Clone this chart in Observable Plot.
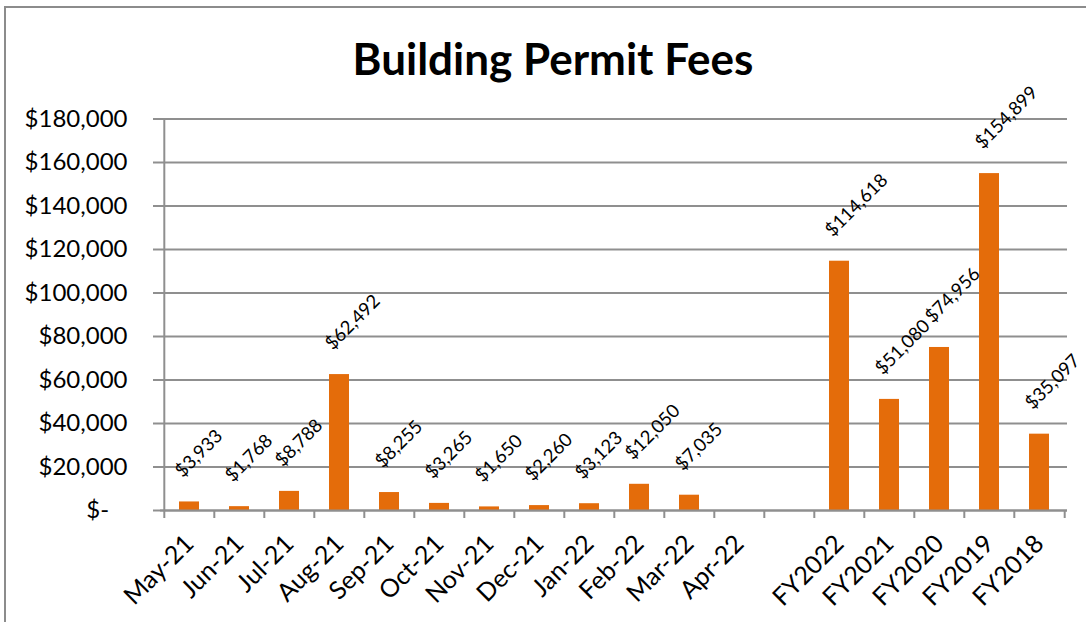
<!DOCTYPE html>
<html>
<head>
<meta charset="utf-8">
<script src="https://cdn.jsdelivr.net/npm/d3@7"></script>
<script src="https://cdn.jsdelivr.net/npm/@observablehq/plot@0.6"></script>
<style>
  html, body { margin: 0; padding: 0; background: #fff; }
  #wrap { position: relative; width: 1086px; height: 622px; overflow: hidden; font-family: Lato, "Open Sans", sans-serif; }
  #border { position: absolute; left: 4px; top: 6px; width: 1200px; height: 700px; border-left: 2px solid #8c8c8c; border-top: 2px solid #8c8c8c; box-sizing: border-box; }
  #title { position: absolute; left: 0; top: 36px; width: 1106px; text-align: center; font-weight: 700; font-size: 44px; line-height: 44px; color: #000; }
  #chart { position: absolute; left: 0; top: 0; }
</style>
</head>
<body>
<div id="wrap">
  <div id="border"></div>
  <div id="chart"></div>
  <div id="title"><span id="titleText"></span></div>
</div>
<script>
const title = "Building Permit Fees";
const categories = ["May-21","Jun-21","Jul-21","Aug-21","Sep-21","Oct-21","Nov-21","Dec-21","Jan-22","Feb-22","Mar-22","Apr-22"," ","FY2022","FY2021","FY2020","FY2019","FY2018"];
const fees = [3933,1768,8788,62492,8255,3265,1650,2260,3123,12050,7035,null,null,114618,51080,74956,154899,35097];
const yTicks = [0,20000,40000,60000,80000,100000,120000,140000,160000,180000];

document.getElementById("titleText").textContent = title;

const W = 1086, H = 622, ML = 160, MR = 19, MT = 118.5, MB = 112;
const step = (W - ML - MR) / categories.length;
const gray = "#8f8f8f";
const money = d3.format(",");
const yFormat = d => d === 0 ? "$-\u00a0\u00a0\u00a0" : "$" + money(d);

const data = categories.map((c, i) => ({category: c, fee: fees[i]}));
const withValues = data.filter(d => d.fee != null);

const plot = Plot.plot({
  width: W, height: H,
  marginLeft: ML, marginRight: MR, marginTop: MT, marginBottom: MB,
  style: {fontFamily: "Lato, 'Open Sans', sans-serif", background: "transparent", color: "#000"},
  x: {type: "band", domain: categories, paddingInner: 0.6, paddingOuter: 0.3, label: null},
  y: {domain: [0, 180000], label: null},
  marks: [
    Plot.gridY(yTicks, {stroke: gray, strokeOpacity: 1, strokeWidth: 2}),
    Plot.barY(withValues, {x: "category", y: "fee", fill: "#e46c0a"}),
    Plot.ruleY([0], {stroke: gray, strokeWidth: 2}),
    Plot.ruleX([categories[0]], {y1: 0, y2: 180000, dx: -step / 2, stroke: gray, strokeWidth: 2}),
    Plot.axisY({ticks: yTicks, tickSize: 7, tickPadding: 26, tickFormat: yFormat, fontSize: 24, stroke: gray, strokeWidth: 2, label: null}),
    Plot.axisX({tickSize: 8, tickFormat: () => "", dx: -step / 2, stroke: gray, strokeWidth: 2, label: null}),
    Plot.axisX([categories[categories.length - 1]], {tickSize: 8, tickFormat: () => "", dx: step / 2, stroke: gray, strokeWidth: 2, label: null}),
    Plot.axisX({tickSize: 0, tickPadding: 29, tickRotate: -45, fontSize: 25, label: null}),
    Plot.text(withValues, {x: "category", y: "fee", text: d => "$" + money(d.fee), rotate: -45, textAnchor: "start", dx: -11, dy: -28, fontSize: 18.5, fill: "#000"})
  ]
});
document.getElementById("chart").appendChild(plot);
</script>
</body>
</html>
